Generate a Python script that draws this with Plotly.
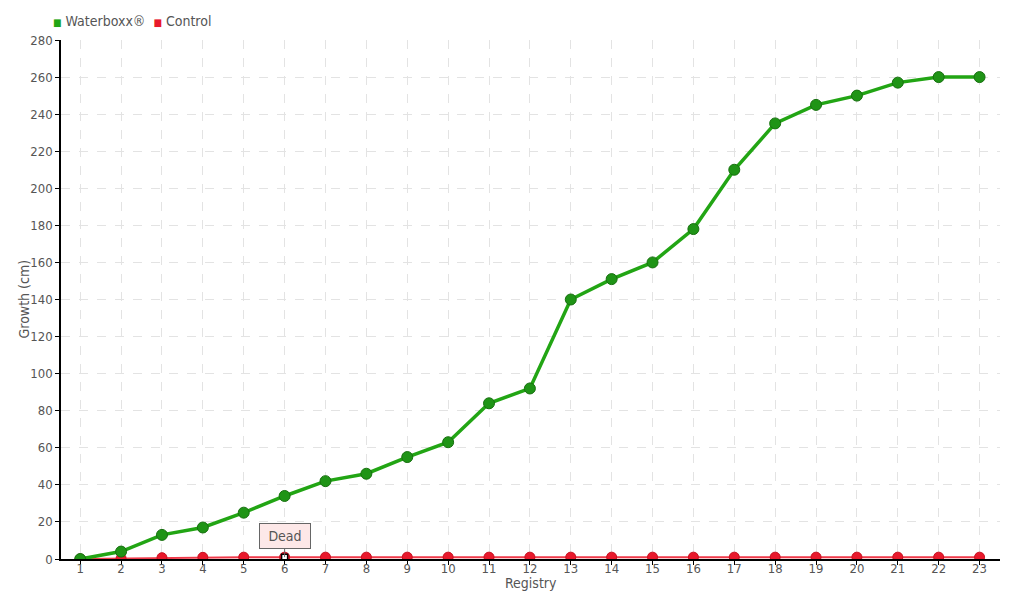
import plotly.graph_objects as go

registry = list(range(1, 24))
waterboxx = [0, 4, 13, 17, 25, 34, 42, 46, 55, 63, 84, 92, 140, 151, 160, 178,
             210, 235, 245, 250, 257, 260, 260]
control = [0, 0.3, 0.7, 0.9, 1, 1, 1, 1, 1, 1, 1, 1, 1, 1, 1, 1, 1, 1, 1, 1, 1, 1, 1]
dead_at = 6

font = 'DejaVu Sans Condensed'
grey = '#555555'
green = '#22a514'
red = '#e8192c'

fig = go.Figure()
fig.add_trace(go.Scatter(
    x=registry, y=control, name='Control', mode='lines+markers', showlegend=False,
    line=dict(color='#f03a4a', width=2),
    marker=dict(color=red, size=10, line=dict(color='#c8101f', width=1)),
))
fig.add_trace(go.Scatter(
    x=registry, y=waterboxx, name='Waterboxx®', mode='lines+markers', showlegend=False,
    line=dict(color=green, width=3.5),
    marker=dict(color='#1f9416', size=11, line=dict(color='#17700f', width=1)),
))
fig.add_trace(go.Scatter(
    x=[dead_at], y=[control[dead_at - 1]], mode='markers', showlegend=False,
    marker=dict(symbol='square', color='white', size=6, line=dict(color='black', width=1.5)),
))
fig.add_annotation(
    x=dead_at, y=control[dead_at - 1], text='Dead', showarrow=True,
    arrowhead=0, arrowcolor='#666', ax=0, ay=-21, width=44, height=18,
    bgcolor='#fde8e8', bordercolor='#666', borderwidth=1, borderpad=3,
    font=dict(family=font, size=14, color=grey),
)
# compact legend like the original (small squares right next to the labels)
fig.add_annotation(
    xref='paper', yref='paper', x=-0.011, y=1.0, yanchor='bottom', xanchor='left',
    yshift=9, showarrow=False,
    text=(f'<span style="color:{green};font-size:10px">■</span> Waterboxx®  '
          f'<span style="color:{red};font-size:10px">■</span> Control'),
    font=dict(family=font, size=14, color=grey),
)
# axis titles placed close to the axes
fig.add_annotation(xref='paper', yref='paper', x=0.5, y=0, yshift=-24,
                   xanchor='center', yanchor='middle', showarrow=False,
                   text='Registry', font=dict(family=font, size=14, color=grey))
fig.add_annotation(xref='paper', yref='paper', x=0, y=0.5, xshift=-38,
                   xanchor='center', yanchor='middle', showarrow=False, textangle=-90,
                   text='Growth (cm)', font=dict(family=font, size=14, color=grey))

axis_common = dict(
    showgrid=True, gridcolor='#e3e3e3', griddash='dash', gridwidth=1,
    showline=True, linecolor='black', linewidth=1.5,
    ticks='outside', ticklen=4, tickcolor='black',
    tickfont=dict(family=font, size=13, color=grey),
    zeroline=False, automargin=False,
)
fig.update_xaxes(range=[0.53, 23.5], tickmode='array', tickvals=registry,
                 ticklabelstandoff=-7, **axis_common)
fig.update_yaxes(range=[0, 280], dtick=20, **axis_common)
# page body keeps an 8px margin, so the figure is sized to the visible area
fig.update_layout(
    width=1012, height=592,
    plot_bgcolor='white', paper_bgcolor='white',
    margin=dict(l=53, r=20, t=32, b=41, autoexpand=False),
    font=dict(family=font, color=grey),
    showlegend=False,
)
fig.write_html('out.html')
